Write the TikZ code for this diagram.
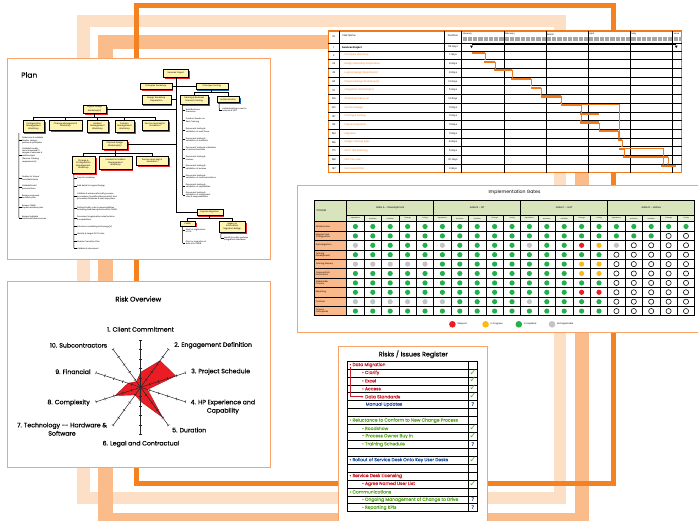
\documentclass[tikz,border=0pt]{standalone}
\usepackage{fontspec}
\setmainfont{Poppins}
\newfontfamily\medfont{Poppins}[FakeBold=0.25]
\newfontfamily\symfont{DejaVu Sans}
\usetikzlibrary{shadows,arrows.meta}

\definecolor{frLight}{HTML}{FDDFC6}
\definecolor{frMid}{HTML}{F9BC8A}
\definecolor{frDark}{HTML}{F58220}
\definecolor{panelEdge}{HTML}{F8A468}
\definecolor{ganttOrange}{HTML}{F07A1E}
\definecolor{boxYellow}{HTML}{FFF4B0}
\definecolor{shRed}{HTML}{E3262E}
\definecolor{shBlue}{HTML}{1F63B4}
\definecolor{hdrGreen}{HTML}{D8E4BC}
\definecolor{subGreen}{HTML}{E8EFD8}
\definecolor{critPeach}{HTML}{F9B98B}
\definecolor{dotGreen}{HTML}{22B14C}
\definecolor{dotGrey}{HTML}{C4C4C4}
\definecolor{dotRed}{HTML}{EC1C24}
\definecolor{dotAmber}{HTML}{FDB913}
\definecolor{radarRed}{HTML}{EC1C24}
\definecolor{regRed}{HTML}{C8202E}
\definecolor{regBlue}{HTML}{1F4FA3}
\definecolor{regGreen}{HTML}{5FA829}
\definecolor{tickGreen}{HTML}{5DB531}

\newcommand{\pfont}[2]{\fontsize{#1}{#2}\selectfont}
% one bullet of a plan list: tick from the bracket line, then the text
\newcommand{\pitem}[4]{%
  \draw[pline] (#2-2.7,#3) -- (#2,#3);
  \node[leaf] (#1) at (#2,#3) {#4};}

\begin{document}
\begin{tikzpicture}[x=1pt,y=-1pt,
  panel/.style={fill=white, draw=panelEdge, line width=0.9},
  pbox/.style={draw=black, line width=0.4, fill=boxYellow, inner sep=0, align=center, font=\pfont{2.1}{2.4}},
  shR/.style={drop shadow={shadow xshift=1.7pt, shadow yshift=-1.7pt, fill=shRed, opacity=1}},
  shB/.style={drop shadow={shadow xshift=1.7pt, shadow yshift=-1.7pt, fill=shBlue, opacity=1}},
  pline/.style={draw=black, line width=0.5},
  leaf/.style={anchor=west, align=left, inner sep=0.2, font=\pfont{2}{2.3}},
  gtxt/.style={inner sep=0, font=\pfont{2.4}{2.6}},
  gbar/.style={fill=ganttOrange, inner sep=0, minimum height=2.2pt},
  glink/.style={draw=ganttOrange, line width=0.55, -{Triangle[length=1.4pt,width=1.6pt]}},
  gline/.style={draw=black, line width=0.6},
  tline/.style={draw=black, line width=0.9},
  tthin/.style={draw=black, line width=0.5},
  dotG/.style={fill=dotGreen}, dotN/.style={fill=dotGrey}, dotR/.style={fill=dotRed},
  dotA/.style={fill=dotAmber}, dotW/.style={draw=black, fill=white, line width=0.55},
  rlabel/.style={inner sep=0, font=\medfont\pfont{6.2}{8.3}, align=center},
  rline/.style={draw=black!85, line width=0.5},
  rtxt/.style={anchor=west, inner sep=0, font=\medfont\pfont{4.45}{5}},
  chk/.style={inner sep=0, font=\symfont\bfseries\fontsize{8.5}{8.5}\selectfont, text=tickGreen},
  qm/.style={inner sep=0, font=\symfont\bfseries\fontsize{5.2}{5.2}\selectfont, text=regBlue},
]
\useasboundingbox (0,0) rectangle (698,521);
\fill[white] (0,0) rectangle (698,521);

% ---------- background frames ----------
\draw[frLight, line width=12.5] (83.25,21.25) rectangle (559.75,497.75);
\draw[frMid, line width=14.5] (105.25,42.25) rectangle (581.75,520.25);
\draw[frDark, line width=5] (136,5.8) rectangle (613,483.5);

% ---------- panels ----------
\draw[panel] (7,58.3) rectangle (270.7,259.3);
\draw[panel] (7.3,281.7) rectangle (270,467.7);
\draw[fill=white, draw=ganttOrange, line width=1.1] (328.3,31) rectangle (681.7,172.7);
\draw[panel] (297.5,185.7) rectangle (712,332.7);
\draw[panel] (338.4,346.7) rectangle (487,530);

% ================= PLAN =================
\node[anchor=west, inner sep=0, font=\medfont\pfont{7.5}{8}] (plantitle) at (21,75) {Plan};

\node[pbox,shR,minimum width=25pt,minimum height=8pt] (sp) at (175.8,73.3) {Services Project};
\node[pbox,shR,minimum width=31.7pt,minimum height=5.7pt] (pw) at (155.85,86.15) {Principles Workshop};
\node[pbox,shB,minimum width=32pt,minimum height=5.7pt] (pt) at (211.7,86.15) {Prototype Testing};
\node[pbox,shR,minimum width=29pt,minimum height=9.3pt] (dwp) at (156.2,99.65) {Design Workshop\\Preparation};
\node[pbox,shB,minimum width=28.3pt,minimum height=9.3pt] (tbst) at (194.15,99.65) {Training \& Business\\Scenario Testing};
\node[pbox,shB,minimum width=22.6pt,minimum height=6pt] (auth) at (228,99.7) {Authentication};
\node[pbox,shR,minimum width=22.7pt,minimum height=8.3pt] (ldw) at (94.65,109.15) {Logical Design\\Workshop(s)};
\node[pbox,shR,minimum width=21.6pt,minimum height=12.7pt] (cmw) at (33.5,126.35) {Configuration\\Management\\Workshop};
\node[pbox,shB,minimum width=32.4pt,minimum height=10pt] (chw) at (65.5,125) {Change Management\\Workshop};
\node[pbox,shR,minimum width=21.6pt,minimum height=12.7pt] (imw) at (97.5,126.35) {Incident\\Management\\Workshop};
\node[pbox,shR,minimum width=19pt,minimum height=12.7pt] (prw) at (124.5,126.35) {Problem\\Management\\Workshop};
\node[pbox,shR,minimum width=26.6pt,minimum height=10pt] (slw) at (155,125) {Service Level Mgt \&\\Escalation};
\node[pbox,shR,minimum width=25pt,minimum height=9.3pt] (pdw) at (114.8,144.65) {Physical Design\\Workshop(s)};
\node[pbox,shR,minimum width=23.3pt,minimum height=17.3pt] (ccw) at (83.35,164.65) {Change \&\\Configuration\\Management\\Workshop};
\node[pbox,shR,minimum width=32.4pt,minimum height=13pt] (ipw) at (115.5,162.5) {Incident \& Problem\\Management\\Workshop};
\node[pbox,shR,minimum width=32.3pt,minimum height=9.7pt] (sl2) at (152.15,160.85) {Service Level Mgt \&\\Escalation};
\node[pbox,shR,minimum width=26pt,minimum height=5.7pt] (pm) at (209.7,212.15) {Prepare Migration};
\node[pbox,shR,minimum width=15pt,minimum height=4.8pt] (cmdb) at (187.5,223.4) {CMDB};
\node[pbox,shR,minimum width=25.7pt,minimum height=11pt] (lib) at (232.15,226.5) {Legacy \&\\Information\\Migration Bridge};

% tree connectors
\draw[pline] (sp.south) -- (sp.south |- pm.west) -- (pm.west);
\draw[pline] (pw.east) -- (pt.west);
\draw[pline] (dwp.east) -- (dwp.east -| sp.south);
\draw[pline] (ldw.east) -- (ldw.east -| sp.south);
\draw[pline] (pdw.east) -- (pdw.east -| sp.south);
\draw[pline] (pt.south) -- (pt.south |- 0,92.4);
\draw[pline] (tbst.north) |- (auth.north |- 0,92.4) -- (auth.north);
\draw[pline] (ldw.south) -- (ldw.south |- 0,117.3);
\draw[pline] (cmw.north) |- (slw.north |- 0,117.3) -- (slw.north);
\foreach \n in {chw,imw,prw} \draw[pline] (\n.north) -- (\n.north |- 0,117.3);
\draw[pline] (pdw.south) -- (pdw.south |- 0,153);
\draw[pline] (ccw.north) |- (sl2.north |- 0,153) -- (sl2.north);
\draw[pline] (ipw.north) -- (ipw.north |- 0,153);
\draw[pline] (pm.south) -- (pm.south |- 0,218.2);
\draw[pline] (cmdb.north) |- (lib.north |- 0,218.2) -- (lib.north);

% configuration management list
\draw[pline] ([xshift=-3.7pt]cmw.south west) -- (19,217.8);
\pitem{cm1}{21.7}{140.7}{Determine \& validate\\`Master' design,\\policies \& principles}
\pitem{cm2}{21.7}{155.3}{Validate/modify\\recommended CI\\ranges of services \&\\relationships\\(Service Catalog\\requirements)}
\pitem{cm3}{21.7}{178.7}{Finalise `in Scope'\\tools/definitions}
\pitem{cm4}{21.7}{187.2}{Validate/build\\process flows}
\pitem{cm5}{21.7}{197.3}{Review proposed\\workflow plan}
\pitem{cm6}{21.7}{207.3}{Review CMDB\\Implementation plan}
\pitem{cm7}{21.7}{217.8}{Review/validate\\interfaces/data sources}

% change & configuration list
\draw[pline] ([xshift=2.3pt]ccw.south west) -- (74,248.3);
\pitem{cc1}{76.8}{178.3}{Prep for workshop}
\pitem{cc2}{76.8}{186}{Add detail to Logical Design}
\pitem{cc3}{76.8}{196.3}{Validate \& enhance/modify process\\procedures (workflow/documents) and\\procedure timelines \& next step plans}
\pitem{cc4}{76.8}{208.5}{Define/modify roles \& responsibilities\\including task descriptions within CMDB}
\pitem{cc5}{76.8}{218.2}{Document organisation roles/actions\\\& capabilities}
\pitem{cc6}{76.8}{226.7}{Introduce modelling technology(s)}
\pitem{cc7}{76.8}{234}{Identify \& target PILOT roles}
\pitem{cc8}{76.8}{241.5}{Finalise Transition Plan}
\pitem{cc9}{76.8}{248.3}{Validate \& document}

% training & business scenario list
\draw[pline] ([xshift=2.7pt]tbst.south west) -- (182.7,195);
\pitem{tb1}{185.4}{110.7}{Build Business\\Scenarios}
\pitem{tb2}{185.4}{120.5}{Conduct hands-on\\Desk Training}
\pitem{tb3}{185.4}{130.3}{Document testing \&\\validation of work flows}
\pitem{tb4}{185.4}{139.6}{Document testing \&\\validation of incidents}
\pitem{tb5}{185.4}{149}{Document testing \& validation\\of work instructions}
\pitem{tb6}{185.4}{158.3}{Document testing \&\\reviews}
\pitem{tb7}{185.4}{167.3}{Document testing \&\\validation of reviews}
\pitem{tb8}{185.4}{176.7}{Document testing \&\\validation of communications}
\pitem{tb9}{185.4}{186}{Document testing \&\\validation of capabilities}
\pitem{tb10}{185.4}{195}{Document testing \&\\validation of component\\roles \& responsibilities}

% authentication, CMDB and bridge lists
\draw[pline] ([xshift=2.6pt]auth.south west) -- (219.3,110);
\pitem{au1}{222}{110}{Authenticating a user to\\network \& SSO}
\draw[pline] ([xshift=2.7pt]cmdb.south west) -- (182.7,243);
\pitem{cd1}{185.4}{230.5}{Plan for registration\\of CIs}
\pitem{cd2}{185.4}{243}{Plan for migration of\\data into CMDB}
\draw[pline] ([xshift=1.7pt]lib.south west) -- (221,238.5);
\pitem{lb1}{223.7}{238.5}{Identify/modify systems\\integration interfaces}

% ================= GANTT =================
\fill[black!35] (461.7,37.2) rectangle (681.7,41.2);
\foreach \w in {0,...,41} \draw[white, line width=0.35] (461.7+5.275*\w,37.2) -- (461.7+5.275*\w,41.2);
\foreach [count=\m from 0] \mo in {January,February,March,April,May,June}
  \node[gtxt, anchor=west, font=\pfont{2.2}{2.4}] (mon\m) at (462.6+42.2*\m,34.2) {\mo};
\foreach \xx in {339.3,444.5,461.7} \draw[gline] (\xx,31) -- (\xx,172.7);
\foreach \m in {1,...,5} \draw[gline] (461.7+42.2*\m,31) -- (461.7+42.2*\m,172.7);
\draw[gline] (328.3,43.3) -- (681.7,43.3);
\draw[gline] (328.3,51) -- (681.7,51);
\foreach \k in {1,...,13} \draw[gline] (328.3,51+8.7*\k) -- (681.7,51+8.7*\k);

\node[gtxt] (hid) at (333.8,36.5) {ID};
\node[gtxt, anchor=west] (hname) at (342,35.5) {Task Name};
\node[gtxt] (hdur) at (453,35.5) {Duration};
\node[gtxt] (gid1) at (333.8,47.4) {1};
\node[gtxt, anchor=west] (gnm1) at (342,47.4) {\bfseries Services Project};
\node[gtxt] (gdu1) at (453,47.4) {114 days};
\foreach [count=\k from 2] \id/\nm/\du in {2/Principles Workshop/7 days, 22/Design Workshop Preparation/8 days, 42/Logical Design Workshop(s)/8 days, 82/Physical Design Workshop(s)/13 days, 111/Integration Workshop(s)/5 days, 126/Workshop Follow-on/14 days, 130/Solution Design/11 days, 137/Prototype Testing/11 days, 161/Prepare Migration/11 days, 184/Migration/11 days, 186/Design Training Spec/8 days, 170/PILOT Test Planning/5 days, 188/PILOT Go-Live/20 days, 197/Go Forward Plan/3 days} {
  \node[gtxt] (gid\k) at (333.8,37.95+8.7*\k) {\id};
  \node[gtxt, anchor=west, text=ganttOrange] (gnm\k) at (344.5,37.95+8.7*\k) {\nm};
  \node[gtxt] (gdu\k) at (453,37.95+8.7*\k) {\du};
}

% summary bar
\node[fill=black, inner sep=0, minimum height=1.8pt, minimum width=204.3pt] (b1) at (573.85,44.6) {};
\fill (b1.south west) ++(-1.4,0) -- ++(2.8,0) -- ++(-1.4,2.4) -- cycle;
\fill (b1.south east) ++(-1.4,0) -- ++(2.8,0) -- ++(-1.4,2.4) -- cycle;

% task bars
\foreach \k/\xa/\xb in {2/471.7/485,3/484.3/495,4/494/512.3,5/511/531,6/530.7/540.7,7/540.7/560.7,8/560.7/580.7,9/580/598.7,10/580/599.3,11/599.3/618.3,12/617.7/621.7,13/619/624,14/622.7/667.7,15/660.7/676}{
  \pgfmathsetmacro\bw{\xb-\xa}
  \pgfmathsetmacro\bc{(\xa+\xb)/2}
  \node[gbar, minimum width=\bw pt] (b\k) at (\bc,35.6+8.7*\k) {};
}
% task links
\foreach \i/\j in {2/3,3/4,4/5,5/6,6/7,7/8,8/9,8/10,10/11,11/12,12/13,13/14,14/15}
  \draw[glink] (b\i.east) -- (b\i.east |- b\j.north);
\draw[glink] (b7.east) |- (b12.north |- b8.north) -- (b12.north);
\draw[glink] (b13.east) -| ([xshift=2.6pt]b15.north west);

% ================= IMPLEMENTATION GATES =================
\node[inner sep=0, font=\pfont{4.6}{5}] (gtitle) at (514.5,192.8) {Implementation Gates};
\fill[hdrGreen] (314,200.7) rectangle (694.7,215);
\fill[subGreen] (346.7,215) rectangle (694.7,221.8);
\fill[hdrGreen] (314,215) rectangle (346.7,221.8);
\fill[critPeach] (314,221.8) rectangle (346.7,315.8);
\node[inner sep=0, anchor=west, font=\pfont{2.6}{3}] (crit) at (316.5,211) {Criteria};
\foreach [count=\g from 0] \gn in {Gate A -- Development, Gate B -- SIT, Gate C -- UAT, Gate D -- Golive}
  \node[inner sep=0, font=\pfont{2.5}{3}] (gate\g) at (390.2+87*\g,208) {\gn};
\foreach \g in {0,...,3} \foreach [count=\c from 0] \sn in {Operations,Architect,Facilities,Change,Config}
  \node[inner sep=0, font=\pfont{1.6}{2}] (sub\g\c) at (355.4+87*\g+17.4*\c,218.4) {\sn};
\foreach [count=\r] \cn in {Infrastructure, {Migrate Task\\Configuration}, Data Migration, {Training\\Development}, Training Delivery, {Process Work\\Instructions}, {Stakeholder\\Comms}, Reporting, Contract, {Process\\Participants}}
  \node[anchor=west, inner sep=0, align=left, font=\pfont{2.1}{2.4}] (crit\r) at (315.6,217.1+9.4*\r) {\cn};

\foreach \r in {0,...,10} \draw[tline] (314,221.8+9.4*\r) -- (694.7,221.8+9.4*\r);
\draw[tthin] (346.7,215) -- (694.7,215);
\foreach \c in {1,...,19} \draw[tthin] (346.7+17.4*\c,215) -- (346.7+17.4*\c,315.8);
\foreach \g in {0,...,4} \draw[tline] (346.7+87*\g,200.7) -- (346.7+87*\g,315.8);
\draw[tline] (314,200.7) rectangle (694.7,315.8);

\foreach [count=\r] \row in {
 {G,G,G,G,G,G,G,G,G,G,G,G,G,G,G,G,G,G,G,G},
 {G,G,G,G,G,G,G,G,G,G,G,G,G,G,G,G,G,G,W,W},
 {N,G,G,G,G,N,G,G,G,G,N,G,G,R,A,N,W,W,W,W},
 {G,G,G,G,G,G,G,G,G,G,G,G,G,G,G,W,W,W,W,W},
 {N,N,N,N,N,G,G,G,G,G,G,G,G,A,A,W,W,W,W,W},
 {G,G,G,G,G,G,G,G,G,G,G,G,G,A,A,W,W,W,W,W},
 {G,G,G,G,G,G,G,G,G,G,G,G,G,G,G,W,W,W,W,W},
 {G,G,G,G,G,G,G,G,G,G,G,G,G,R,R,W,W,W,W,W},
 {N,N,N,N,N,N,G,G,G,G,N,G,G,G,G,W,W,W,W,W},
 {G,G,G,G,G,G,G,G,G,G,G,G,G,G,G,W,W,W,W,W}}{
  \foreach [count=\c] \s in \row
    \path[dot\s] (346.7+17.4*\c-8.7,217.1+9.4*\r) circle[radius=2.6pt];
}

\foreach [count=\i from 0] \lc/\lt in {dotRed/Delayed, dotAmber/In Progress, dotGreen/Completed, dotGrey/Not Applicable} {
  \fill[\lc] (452.4+33.2*\i,324.3) circle[radius=3.3pt];
  \node[anchor=west, inner sep=0, font=\pfont{2.2}{2.5}] (leg\i) at (457.3+33.2*\i,324.3) {\lt};
}

% ================= RISK OVERVIEW =================
\node[inner sep=0, font=\medfont\pfont{6.8}{8}] (rtitle) at (138.3,299) {Risk Overview};
\begin{scope}[shift={(140.7,387.3)}]
  \fill[radarRed, draw=radarRed!70!black, line width=0.4]
    (90:15pt) -- (54:32.9pt) -- (18:36.7pt) -- (-18:7.1pt) -- (-54:37.1pt) -- (-90:14.1pt)
    -- (-126:9.4pt) -- (-162:26.8pt) -- (162:13.2pt) -- (126:7.1pt) -- cycle;
  \foreach \k in {0,...,9} {
    \draw[rline, rotate=90-36*\k] (0pt,0pt) -- (47pt,0pt);
    \foreach \rr in {9.4,18.8,28.2,37.6,47}
      \draw[rline, rotate=90-36*\k] (\rr pt,-1.4pt) -- (\rr pt,1.4pt);
  }
\end{scope}
\node[rlabel] (rl1) at (140.5,329.3) {1. Client Commitment};
\node[rlabel, anchor=west] (rl2) at (174,345.3) {2. Engagement Definition};
\node[rlabel, anchor=west] (rl3) at (191,371.7) {3. Project Schedule};
\node[rlabel, anchor=west] (rl4) at (190.5,406.9) {4. HP Experience and\\Capability};
\node[rlabel, anchor=west] (rl5) at (172,430) {5. Duration};
\node[rlabel] (rl6) at (141,444) {6. Legal and Contractual};
\node[rlabel] (rl7) at (62,429.2) {7. Technology -- Hardware \&\\Software};
\node[rlabel, anchor=east] (rl8) at (90,402.7) {8. Complexity};
\node[rlabel, anchor=east] (rl9) at (90.7,371.7) {9. Financial};
\node[rlabel, anchor=east] (rl10) at (107.3,345.3) {10. Subcontractors};

% ================= RISKS / ISSUES REGISTER =================
\node[inner sep=0, font=\medfont\pfont{6.4}{7}] (regtitle) at (413.3,354.3) {Risks / Issues Register};
\foreach \i in {0,...,19} \draw[black, line width=0.55] (347.7,361+7.93*\i) -- (477.7,361+7.93*\i);
\foreach \xx in {347.7,468.3,477.7} \draw[black, line width=0.6] (\xx,361) -- (\xx,511.7);

\node[rtxt, text=regRed] (rg1) at (349.3,365) {• Data Migration};
\node[rtxt, text=regRed] (rg2) at (361.8,372.9) {• Clarify};
\node[rtxt, text=regRed] (rg3) at (361.8,380.8) {• Excel};
\node[rtxt, text=regRed] (rg4) at (361.8,388.8) {• Access};
\node[rtxt, text=regRed] (rg5) at (365,396.7) {Data Standards};
\node[rtxt, text=regBlue] (rg6) at (365.5,404.6) {Manual Updates};
\node[rtxt, text=regGreen] (rg8) at (349.3,420.5) {• Reluctance to Conform to New Change Process};
\node[rtxt, text=regGreen] (rg9) at (361.8,428.4) {• Roadshow};
\node[rtxt, text=regGreen] (rg10) at (361.8,436.3) {- Process Owner Buy In};
\node[rtxt, text=regGreen] (rg11) at (361.8,444.3) {• Training Schedule};
\node[rtxt, text=regBlue] (rg13) at (349.3,460.1) {• Rollout of Service Desk Onto Key User Desks};
\node[rtxt, text=regRed] (rg15) at (349.3,476) {• Service Desk Licensing};
\node[rtxt, text=regRed] (rg16) at (361.8,483.9) {• Agree Named User List};
\node[rtxt, text=regGreen] (rg17) at (349.3,491.8) {• Communications};
\node[rtxt, text=regGreen] (rg18) at (361.8,499.8) {• Ongoing Management of Change to Drive};
\node[rtxt, text=regGreen] (rg19) at (361.8,507.7) {• Reporting KPIs};

\draw[regRed, line width=0.5, -{Triangle[length=2pt,width=2pt]}]
  ([xshift=1.2pt]rg1.south west) |- ([xshift=-1.5pt]rg5.west);

\foreach \r in {2,3,4,5,9,10,13,16}
  \node[chk] (ck\r) at (473,361+7.93*\r-4.5) {✓};
\foreach \r in {6,11,18,19}
  \node[qm] (qm\r) at (473,361+7.93*\r-3.96) {?};
\end{tikzpicture}
\end{document}
